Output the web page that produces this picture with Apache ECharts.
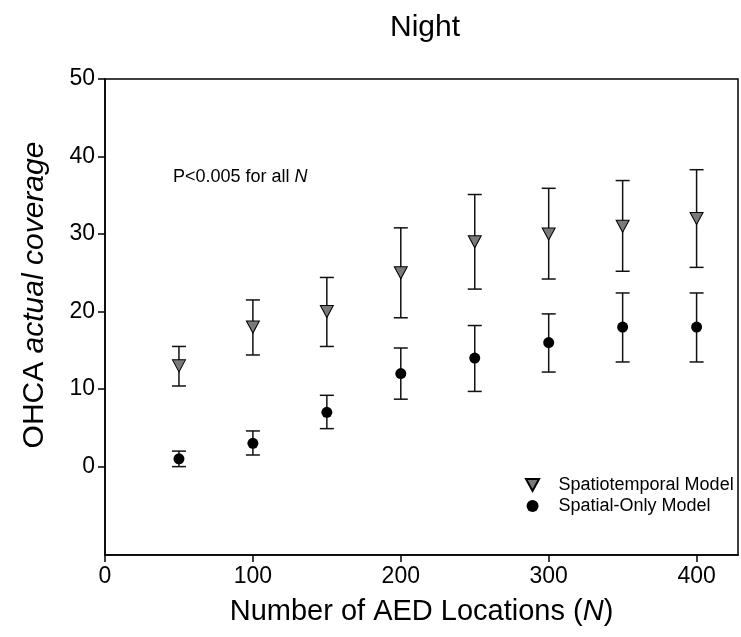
<!DOCTYPE html>
<html>
<head>
<meta charset="utf-8">
<script src="https://cdn.jsdelivr.net/npm/echarts@6/dist/echarts.min.js"></script>
<style>
  html, body { margin: 0; padding: 0; background: #fff; }
  #chart { width: 741px; height: 637px; }
</style>
</head>
<body>
<div id="chart"></div>
<script>
// Number of AED locations
const nValues = [50, 100, 150, 200, 250, 300, 350, 400];

// Spatiotemporal model: mean coverage and error-bar limits
const stMean  = [13, 18, 20, 25, 29, 30, 31, 32];
const stUpper = [15.5, 21.5, 24.4, 30.8, 35.1, 35.9, 36.9, 38.3];
const stLower = [10.4, 14.4, 15.5, 19.2, 22.9, 24.2, 25.2, 25.7];

// Spatial-only model: mean coverage and error-bar limits
const soMean  = [1, 3, 7, 12, 14, 16, 18, 18];
const soUpper = [2.0, 4.6, 9.2, 15.3, 18.2, 19.7, 22.4, 22.4];
const soLower = [0.0, 1.5, 4.9, 8.7, 9.7, 12.2, 13.5, 13.5];

const xTicks = [0, 100, 200, 300, 400];
const yTicks = [0, 10, 20, 30, 40, 50];

const FONT = 'Liberation Sans, Arial, sans-serif';
const DOWN_TRIANGLE = 'path://M0,0 L12,0 L6,11 Z';

function pairs(xs, ys) { return xs.map((x, i) => [x, ys[i]]); }
function bars(xs, lo, hi) { return xs.map((x, i) => [x, lo[i], hi[i]]); }

// Vertical error bar with end caps
function errorBarRenderer(params, api) {
  const x = api.value(0);
  const lo = api.coord([x, api.value(1)]);
  const hi = api.coord([x, api.value(2)]);
  const half = 7;
  const style = { stroke: '#111', lineWidth: 1.5, fill: null };
  return {
    type: 'group',
    children: [
      { type: 'line', shape: { x1: lo[0], y1: lo[1], x2: hi[0], y2: hi[1] }, style },
      { type: 'line', shape: { x1: hi[0] - half, y1: hi[1], x2: hi[0] + half, y2: hi[1] }, style },
      { type: 'line', shape: { x1: lo[0] - half, y1: lo[1], x2: lo[0] + half, y2: lo[1] }, style }
    ]
  };
}

const chart = echarts.init(document.getElementById('chart'));
chart.setOption({
  backgroundColor: '#fff',
  animation: false,
  title: {
    text: 'Night',
    left: 420, top: 8, textAlign: 'center',
    textStyle: { fontFamily: FONT, fontSize: 30, fontWeight: 'normal', color: '#000' }
  },
  grid: {
    left: 105, top: 79, right: 3, bottom: 82,
    show: true, borderColor: '#000', borderWidth: 1.5, backgroundColor: '#fff'
  },
  legend: {
    orient: 'vertical',
    left: 520, top: 471,
    itemWidth: 14, itemHeight: 12, itemGap: 3,
    textStyle: { fontFamily: FONT, fontSize: 18, lineHeight: 18, color: '#000', padding: [0, 0, 0, 14] },
    data: [
      { name: 'Spatiotemporal Model', icon: DOWN_TRIANGLE },
      { name: 'Spatial-Only Model', icon: 'circle' }
    ]
  },
  xAxis: {
    type: 'value',
    min: 0, max: 428,
    name: '{n|Number of AED Locations (}{i|N}{n|)}',
    nameLocation: 'middle', nameGap: 42,
    nameTextStyle: {
      rich: {
        n: { fontFamily: FONT, fontSize: 29, color: '#000' },
        i: { fontFamily: FONT, fontSize: 29, color: '#000', fontStyle: 'italic' }
      }
    },
    axisLine: { show: true, onZero: false, lineStyle: { color: '#000', width: 1.5 } },
    axisTick: { show: true, length: 7, customValues: xTicks, lineStyle: { color: '#000', width: 1.5 } },
    axisLabel: { customValues: xTicks, fontFamily: FONT, fontSize: 23, color: '#000', margin: 10 },
    splitLine: { show: false }
  },
  yAxis: {
    type: 'value',
    min: -11.4, max: 50,
    axisLine: { show: true, onZero: false, lineStyle: { color: '#000', width: 1.5 } },
    axisTick: { show: true, length: 7, customValues: yTicks, lineStyle: { color: '#000', width: 1.5 } },
    axisLabel: { customValues: yTicks, fontFamily: FONT, fontSize: 23, color: '#000', margin: 10 },
    splitLine: { show: false }
  },
  graphic: [
    {
      type: 'text',
      left: 173, top: 168,
      style: {
        text: '{n|P<0.005 for all }{i|N}',
        rich: {
          n: { fontFamily: FONT, fontSize: 18, fill: '#000' },
          i: { fontFamily: FONT, fontSize: 18, fill: '#000', fontStyle: 'italic' }
        }
      }
    },
    {
      // y-axis title, rotated
      type: 'text',
      x: 35, y: 295,
      rotation: Math.PI / 2,
      style: {
        text: '{n|OHCA }{i|actual coverage}',
        align: 'center', verticalAlign: 'middle',
        rich: {
          n: { fontFamily: FONT, fontSize: 30, fill: '#000' },
          i: { fontFamily: FONT, fontSize: 30, fill: '#000', fontStyle: 'italic' }
        }
      }
    }
  ],
  series: [
    {
      name: 'Spatiotemporal error', type: 'custom',
      renderItem: errorBarRenderer,
      data: bars(nValues, stLower, stUpper), z: 1
    },
    {
      name: 'Spatial-Only error', type: 'custom',
      renderItem: errorBarRenderer,
      data: bars(nValues, soLower, soUpper), z: 1
    },
    {
      name: 'Spatiotemporal Model', type: 'scatter',
      symbol: 'triangle', symbolRotate: 180, symbolSize: [13, 12],
      itemStyle: { color: '#7a7a7a', borderColor: '#000', borderWidth: 1, opacity: 1 },
      data: pairs(nValues, stMean), z: 3
    },
    {
      name: 'Spatial-Only Model', type: 'scatter',
      symbol: 'circle', symbolSize: 11,
      itemStyle: { color: '#000', opacity: 1 },
      data: pairs(nValues, soMean), z: 3
    }
  ]
});
</script>
</body>
</html>
